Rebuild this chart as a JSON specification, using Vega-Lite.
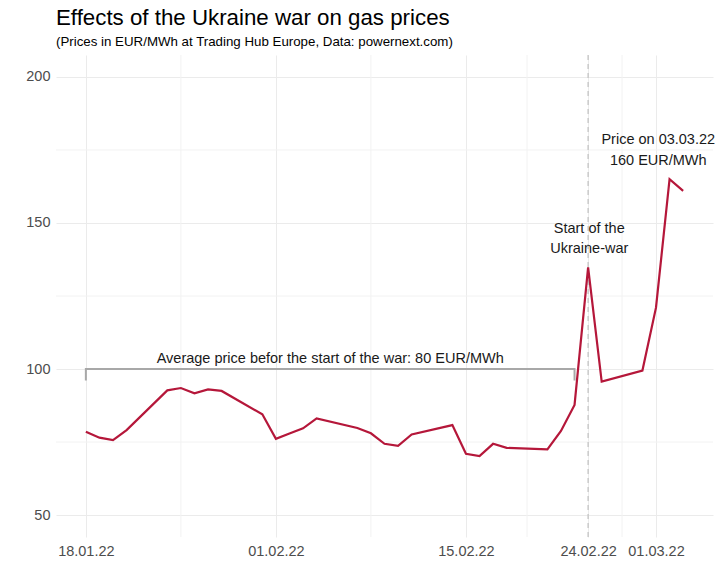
{
  "$schema": "https://vega.github.io/schema/vega-lite/v6.json",
  "width": 657,
  "height": 482,
  "autosize": {"type": "none"},
  "padding": {"left": 56, "top": 55, "right": 9, "bottom": 33},
  "background": "white",
  "config": {
    "view": {"stroke": null},
    "font": "Liberation Sans",
    "axis": {"domain": false, "ticks": false, "labelFont": "Liberation Sans", "labelColor": "#4d4d4d", "labelFontSize": 14.5, "gridColor": "#ebebeb", "gridWidth": 1, "title": null}
  },
  "title": {
    "text": "Effects of the Ukraine war on gas prices",
    "subtitle": "(Prices in EUR/MWh at Trading Hub Europe, Data: powernext.com)",
    "anchor": "start",
    "frame": "group",
    "font": "Liberation Sans",
    "fontSize": 22.3,
    "fontWeight": "normal",
    "color": "#000000",
    "subtitleFont": "Liberation Sans",
    "subtitleFontSize": 13.3,
    "subtitleColor": "#000000",
    "subtitlePadding": 6,
    "offset": 6
  },
  "datasets": {
    "prices": [
      {"date": "2022-01-18", "price": 78.5},
      {"date": "2022-01-19", "price": 76.5},
      {"date": "2022-01-20", "price": 75.7},
      {"date": "2022-01-21", "price": 79.1},
      {"date": "2022-01-24", "price": 92.7},
      {"date": "2022-01-25", "price": 93.5},
      {"date": "2022-01-26", "price": 91.7},
      {"date": "2022-01-27", "price": 93.0},
      {"date": "2022-01-28", "price": 92.5},
      {"date": "2022-01-31", "price": 84.5},
      {"date": "2022-02-01", "price": 76.1},
      {"date": "2022-02-02", "price": 77.9},
      {"date": "2022-02-03", "price": 79.7},
      {"date": "2022-02-04", "price": 83.1},
      {"date": "2022-02-07", "price": 79.8},
      {"date": "2022-02-08", "price": 78.0},
      {"date": "2022-02-09", "price": 74.4},
      {"date": "2022-02-10", "price": 73.7},
      {"date": "2022-02-11", "price": 77.6},
      {"date": "2022-02-14", "price": 80.8},
      {"date": "2022-02-15", "price": 71.0},
      {"date": "2022-02-16", "price": 70.2},
      {"date": "2022-02-17", "price": 74.4},
      {"date": "2022-02-18", "price": 73.0},
      {"date": "2022-02-21", "price": 72.5},
      {"date": "2022-02-22", "price": 78.8},
      {"date": "2022-02-23", "price": 87.7},
      {"date": "2022-02-24", "price": 134.8},
      {"date": "2022-02-25", "price": 95.7},
      {"date": "2022-02-28", "price": 99.5},
      {"date": "2022-03-01", "price": 121.0},
      {"date": "2022-03-02", "price": 165.0},
      {"date": "2022-03-03", "price": 161.0}
    ],
    "minor_x": [
      {"date": "2022-01-25"},
      {"date": "2022-02-08"},
      {"date": "2022-02-19T12:00:00Z"},
      {"date": "2022-02-26T12:00:00Z"}
    ],
    "minor_y": [{"value": 75}, {"value": 125}, {"value": 175}],
    "bracket": [
      {"date": "2022-01-18", "value": 96.1, "order": 1},
      {"date": "2022-01-18", "value": 100, "order": 2},
      {"date": "2022-02-23", "value": 100, "order": 3},
      {"date": "2022-02-23", "value": 96.1, "order": 4}
    ],
    "war_start": [{"date": "2022-02-24"}],
    "labels": [
      {"date": "2022-02-05", "value": 103.3, "label": "Average price befor the start of the war: 80 EUR/MWh"},
      {"date": "2022-02-24T02:00:00Z", "value": 148.0, "label": "Start of the"},
      {"date": "2022-02-24T02:00:00Z", "value": 141.2, "label": "Ukraine-war"},
      {"date": "2022-03-01T04:00:00Z", "value": 178.4, "label": "Price on 03.03.22"},
      {"date": "2022-03-01T04:00:00Z", "value": 171.2, "label": "160 EUR/MWh"}
    ]
  },
  "layer": [
    {
      "data": {"name": "minor_x"},
      "mark": {"type": "rule", "color": "#f2f2f2", "strokeWidth": 1},
      "encoding": {
        "x": {
          "field": "date",
          "type": "temporal",
          "scale": {
            "type": "utc",
            "nice": false,
            "domain": [
              {"year": 2022, "month": 1, "date": 15, "hours": 19, "minutes": 12, "utc": true},
              {"year": 2022, "month": 3, "date": 5, "hours": 4, "minutes": 48, "utc": true}
            ]
          },
          "axis": {
            "labelExpr": "utcFormat(datum.value, '%d.%m.%y')",
            "labelPadding": 7,
            "values": [
              {"year": 2022, "month": 1, "date": 18, "utc": true},
              {"year": 2022, "month": 2, "date": 1, "utc": true},
              {"year": 2022, "month": 2, "date": 15, "utc": true},
              {"year": 2022, "month": 2, "date": 24, "utc": true},
              {"year": 2022, "month": 3, "date": 1, "utc": true}
            ]
          }
        }
      }
    },
    {
      "data": {"name": "minor_y"},
      "mark": {"type": "rule", "color": "#f2f2f2", "strokeWidth": 1},
      "encoding": {
        "y": {
          "field": "value",
          "type": "quantitative",
          "scale": {"domain": [42.5, 207.5], "nice": false, "zero": false},
          "axis": {"values": [50, 100, 150, 200], "labelPadding": 6}
        }
      }
    },
    {
      "data": {"name": "war_start"},
      "mark": {"type": "rule", "color": "#c4c4c4", "strokeWidth": 1.3, "strokeDash": [5, 4]},
      "encoding": {
        "x": {"field": "date", "type": "temporal"}
      }
    },
    {
      "data": {"name": "bracket"},
      "mark": {"type": "line", "color": "#a8a8a8", "strokeWidth": 2, "strokeCap": "butt", "strokeJoin": "miter"},
      "encoding": {
        "x": {"field": "date", "type": "temporal"},
        "y": {"field": "value", "type": "quantitative"},
        "order": {"field": "order", "type": "quantitative"}
      }
    },
    {
      "data": {"name": "prices"},
      "mark": {"type": "line", "color": "#b5173a", "strokeWidth": 2.2},
      "encoding": {
        "x": {"field": "date", "type": "temporal"},
        "y": {"field": "price", "type": "quantitative"}
      }
    },
    {
      "data": {"name": "labels"},
      "mark": {"type": "text", "font": "Liberation Sans", "fontSize": 14.5, "color": "#1a1a1a", "align": "center", "baseline": "middle"},
      "encoding": {
        "x": {"field": "date", "type": "temporal"},
        "y": {"field": "value", "type": "quantitative"},
        "text": {"field": "label", "type": "nominal"}
      }
    }
  ]
}
